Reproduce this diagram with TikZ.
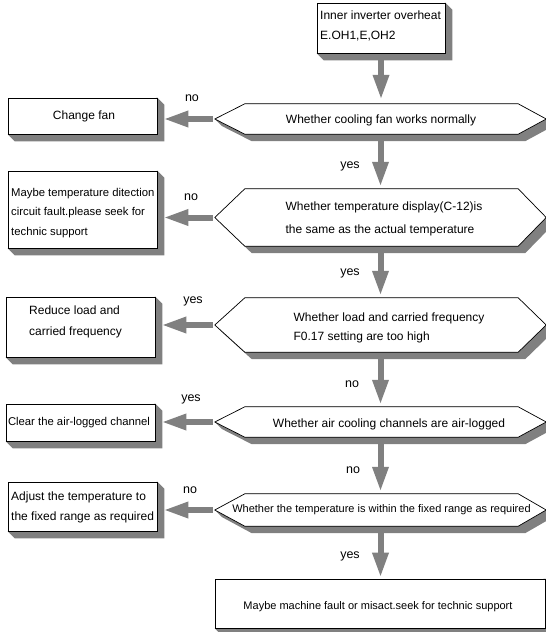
\documentclass[tikz,border=0pt]{standalone}
\usepackage{fontspec}
\setmainfont{Liberation Sans}
\usetikzlibrary{arrows.meta,backgrounds,calc}
\definecolor{shadecol}{RGB}{128,128,128}
\definecolor{arrowcol}{RGB}{128,128,128}
\newcommand{\fsz}[2]{\fontsize{#1}{#2}\selectfont}
\newcommand{\boxshadow}[1]{%
  \begin{scope}[on background layer]
  \fill[shadecol] (#1.north east) -- ([shift={(7,-7)}]#1.north east) -- ([shift={(7,-7)}]#1.south east) -- ([shift={(7,-7)}]#1.south west) -- (#1.south west) -- cycle;
  \end{scope}}
\newcommand{\hexshape}[1]{%
  \begin{scope}[on background layer]
  \fill[shadecol] (#1.west) -- ([xshift=30pt]#1.north west) -- ([xshift=-28pt]#1.north east) -- (#1.east) -- ([shift={(7,-7)}]#1.east) -- ([shift={(-21,-7)}]#1.south east) -- ([shift={(37,-7)}]#1.south west) -- ([shift={(7,-7)}]#1.west) -- cycle;
  \draw[line width=0.7pt, fill=white] (#1.west) -- ([xshift=30pt]#1.north west) -- ([xshift=-28pt]#1.north east) -- (#1.east) -- ([xshift=-28pt]#1.south east) -- ([xshift=30pt]#1.south west) -- cycle;
  \end{scope}}
\tikzset{
  shapebox/.style={draw=black, line width=0.7pt, fill=white, inner sep=0pt},
  hexnode/.style={inner sep=0pt, minimum width=331pt},
  txt/.style={inner sep=0pt, align=left},
  lbl/.style={inner sep=0pt, font=\fsz{12.5}{15}},
  bigarrow/.style={draw=arrowcol, line width=6pt, -{Triangle[length=25pt,width=15pt]}}
}
\begin{document}
\begin{tikzpicture}[x=1pt,y=1pt]
\useasboundingbox (0,0) rectangle (546,-632);
\clip (0,0) rectangle (546,-632);
% top box
\node[shapebox, minimum width=128pt, minimum height=50pt] (b0) at (381,-28) {};
\boxshadow{b0}
\node[txt, anchor=west, font=\fsz{12}{20}] (t0) at (320,-26) {Inner inverter overheat\\E.OH1,E,OH2};
% hexagons
\node[hexnode, minimum height=30pt] (h1) at (380.5,-119) {};
\hexshape{h1}
\node[txt, font=\fsz{12}{20}] (t1) at (381,-120) {Whether cooling fan works normally};
\node[hexnode, minimum height=57pt] (h2) at (380.5,-217.5) {};
\hexshape{h2}
\node[txt, font=\fsz{12}{23}] (t2) at (384,-219) {Whether temperature display(C-12)is\\the same as the actual temperature};
\node[hexnode, minimum height=54pt] (h3) at (380.5,-325) {};
\hexshape{h3}
\node[txt, font=\fsz{12}{19.5}] (t3) at (389,-328) {Whether load and carried frequency\\F0.17 setting are too high};
\node[hexnode, minimum height=30pt] (h4) at (380.5,-422) {};
\hexshape{h4}
\node[txt, font=\fsz{12}{20}] (t4) at (389,-424) {Whether air cooling channels are air-logged};
\node[hexnode, minimum height=32pt] (h5) at (380.5,-510) {};
\hexshape{h5}
\node[txt, font=\fsz{11}{20}] (t5) at (381.5,-510) {Whether the temperature is within the fixed range as required};
% side boxes
\node[shapebox, minimum width=149pt, minimum height=36pt] (b1) at (82.5,-116) {};
\boxshadow{b1}
\node[txt, font=\fsz{12}{20}] (tb1) at (84,-116) {Change fan};
\node[shapebox, minimum width=149pt, minimum height=77pt] (b2) at (82.5,-209.5) {};
\boxshadow{b2}
\node[txt, anchor=west, font=\fsz{11.3}{19.5}] (tb2) at (11,-213) {Maybe temperature ditection\\circuit fault.please seek for\\technic support};
\node[shapebox, minimum width=149pt, minimum height=60pt] (b3) at (80.5,-327) {};
\boxshadow{b3}
\node[txt, anchor=west, font=\fsz{12}{21}] (tb3) at (29,-322) {Reduce load and\\carried frequency};
\node[shapebox, minimum width=149pt, minimum height=37pt] (b4) at (80.5,-422.5) {};
\boxshadow{b4}
\node[txt, font=\fsz{11.3}{20}] (tb4) at (79,-423) {Clear the air-logged channel};
\node[shapebox, minimum width=149pt, minimum height=49pt] (b5) at (82.5,-506.5) {};
\boxshadow{b5}
\node[txt, anchor=west, font=\fsz{12}{20}] (tb5) at (11,-507) {Adjust the temperature to\\the fixed range as required};
% final box
\node[shapebox, minimum width=330pt, minimum height=49pt] (b6) at (380,-603.5) {};
\boxshadow{b6}
\node[txt, font=\fsz{11}{20}] (tb6) at (378,-607) {Maybe machine fault or misact.seek for technic support};
% vertical arrows
\draw[bigarrow] ([yshift=-5pt]b0.south) -- ([yshift=4pt]b0.south |- h1.north);
\draw[bigarrow] ([yshift=-7pt]h1.south) -- ([yshift=2pt]h2.north);
\draw[bigarrow] ([yshift=-7pt]h2.south) -- ([yshift=2pt]h3.north);
\draw[bigarrow] ([yshift=-7pt]h3.south) -- ([yshift=2pt]h4.north);
\draw[bigarrow] ([yshift=-7pt]h4.south) -- ([yshift=2pt]h5.north);
\draw[bigarrow] ([yshift=-7pt]h5.south) -- ([yshift=1pt]h5.south |- b6.north);
% horizontal arrows
\draw[bigarrow] ([xshift=-2pt]h1.west) -- ([xshift=6pt]h1.west -| b1.east);
\draw[bigarrow] ([xshift=-2pt]h2.west) -- ([xshift=6pt]h2.west -| b2.east);
\draw[bigarrow] ([xshift=-2pt]h3.west) -- ([xshift=6pt]h3.west -| b3.east);
\draw[bigarrow] ([xshift=-2pt]h4.west) -- ([xshift=6pt]h4.west -| b4.east);
\draw[bigarrow] ([xshift=-2pt]h5.west) -- ([xshift=6pt]h5.west -| b5.east);
% labels
\node[lbl] (l1) at (192,-98) {no};
\node[lbl] (l2) at (350,-166) {yes};
\node[lbl] (l3) at (191,-197) {no};
\node[lbl] (l4) at (350,-273) {yes};
\node[lbl] (l5) at (193,-301) {yes};
\node[lbl] (l6) at (352,-384) {no};
\node[lbl] (l7) at (191,-399) {yes};
\node[lbl] (l8) at (353,-470) {no};
\node[lbl] (l9) at (190,-490) {no};
\node[lbl] (l10) at (350,-556) {yes};
\end{tikzpicture}
\end{document}
